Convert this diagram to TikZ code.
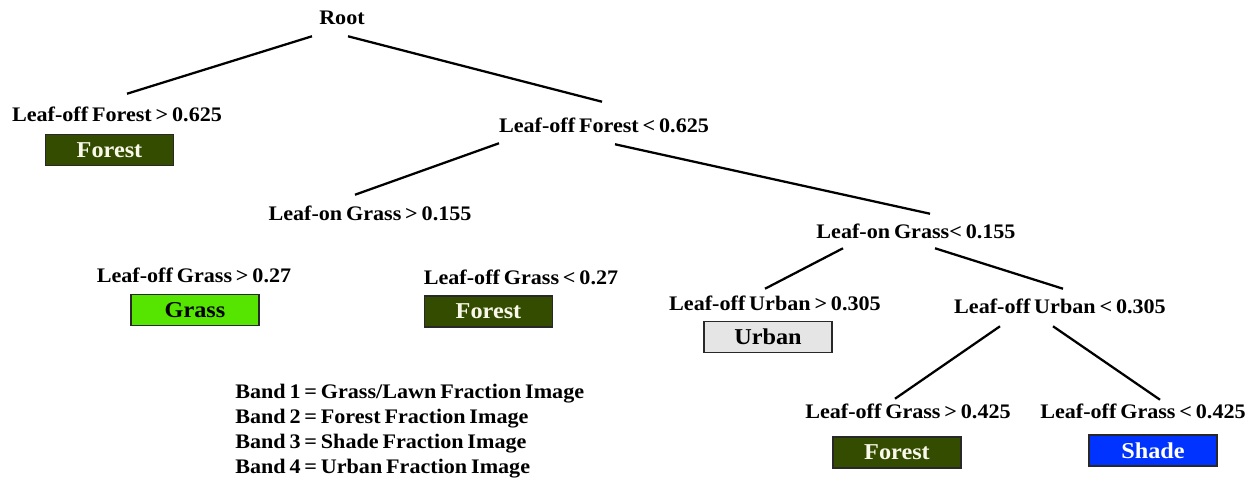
\documentclass[tikz,border=0pt]{standalone}
\usepackage{fontspec}
\setmainfont{Liberation Serif}[FakeStretch=1.07, WordSpace=0.7]
\definecolor{forestfill}{RGB}{51,76,0}
\definecolor{grassfill}{RGB}{85,229,0}
\definecolor{urbanfill}{RGB}{229,229,229}
\definecolor{shadefill}{RGB}{0,51,255}
\definecolor{boxline}{RGB}{40,40,40}
\definecolor{lighttext}{RGB}{250,248,235}
\tikzset{
  rule/.style={inner sep=0pt, text height=12pt, text depth=3pt, font=\fontsize{15.5}{18}\selectfont\bfseries},
  cls/.style={draw=boxline, line width=1.1pt, minimum width=96pt, minimum height=23.5pt, inner sep=0pt, font=\fontsize{17}{20}\selectfont\bfseries},
  branch/.style={line width=1.7pt}
}
\begin{document}
\begin{tikzpicture}[x=0.75pt,y=-0.75pt]
    \useasboundingbox (0,0) rectangle (1257,482);

    % Rule nodes
    \node [rule] (root) at (342,18) {Root};
    \node [rule] (lfA) at (117,115) {Leaf-off Forest > 0.625};
    \node [rule] (lfB) at (604,126) {Leaf-off Forest < 0.625};
    \node [rule] (lgA) at (370,214) {Leaf-on Grass > 0.155};
    \node [rule] (lgB) at (916,232) {Leaf-on Grass< 0.155};
    \node [rule] (goA) at (194,276) {Leaf-off Grass > 0.27};
    \node [rule] (goB) at (521,278) {Leaf-off Grass < 0.27};
    \node [rule] (uoA) at (775,304) {Leaf-off Urban > 0.305};
    \node [rule] (uoB) at (1060,307) {Leaf-off Urban < 0.305};
    \node [rule] (gcA) at (908,412) {Leaf-off Grass > 0.425};
    \node [rule] (gcB) at (1143,412) {Leaf-off Grass < 0.425};

    % Class boxes
    \node [cls, fill=forestfill, text=lighttext] (forestA) at (109.5,150) {Forest};
    \node [cls, fill=grassfill] (grass) at (195,310) {Grass};
    \node [cls, fill=forestfill, text=lighttext] (forestB) at (488.5,311.5) {Forest};
    \node [cls, fill=urbanfill] (urban) at (768,337) {Urban};
    \node [cls, fill=forestfill, text=lighttext] (forestC) at (897,452.5) {Forest};
    \node [cls, fill=shadefill, text=white] (shade) at (1153,450.5) {Shade};

    % Branches
    \draw [branch] ([shift={(-30,8)}]root.south) -- ([shift={(10,-11)}]lfA.north);
    \draw [branch] ([shift={(6,8)}]root.south) -- ([shift={(-2,-14)}]lfB.north);
    \draw [branch] ([shift={(-105,7)}]lfB.south) -- ([shift={(-15,-9)}]lgA.north);
    \draw [branch] ([shift={(11,8)}]lfB.south) -- ([shift={(14,-8)}]lgB.north);
    \draw [branch] ([shift={(-73,6)}]lgB.south) -- ([shift={(-10,-5)}]uoA.north);
    \draw [branch] ([shift={(19,6)}]lgB.south) -- ([shift={(3,-8)}]uoB.north);
    \draw [branch] ([shift={(-60,9)}]uoB.south) -- ([shift={(-13,-3)}]gcA.north);
    \draw [branch] ([shift={(-7,9)}]uoB.south) -- ([shift={(17,-2)}]gcB.north);

    % Band key
    \node [anchor=west, align=left, inner sep=0pt, font=\fontsize{15.5}{18.75}\selectfont\bfseries] (bands) at (235,431)
      {Band 1 = Grass/Lawn Fraction Image\\Band 2 = Forest Fraction Image\\Band 3 = Shade Fraction Image\\Band 4 = Urban Fraction Image};

\end{tikzpicture}
\end{document}
